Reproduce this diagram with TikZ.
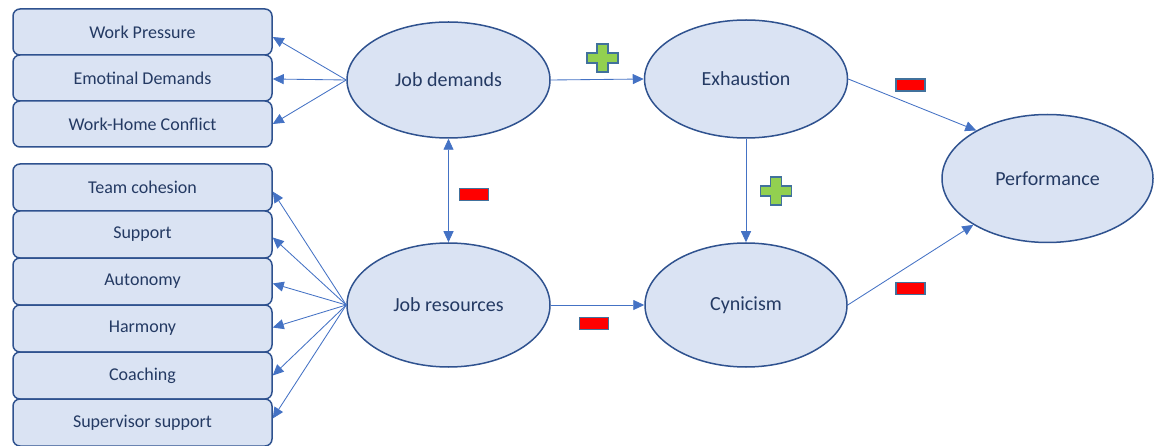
\documentclass[tikz,border=0pt]{standalone}
\usepackage{fontspec}
\setmainfont{Carlito}
\usetikzlibrary{shapes.geometric,arrows.meta}

\definecolor{boxfill}{HTML}{DAE3F3}
\definecolor{boxline}{HTML}{2F528F}
\definecolor{txt}{HTML}{243A63}
\definecolor{arrowc}{HTML}{4472C4}
\definecolor{plusg}{HTML}{92D050}
\definecolor{signline}{HTML}{41719C}

\tikzset{
  factor/.style={draw=boxline, line width=1.5pt, fill=boxfill, rounded corners=7pt,
    minimum width=259pt, text=txt, font=\fontsize{18}{21}\selectfont, inner sep=0pt},
  latent/.style={ellipse, draw=boxline, line width=1.5pt, fill=boxfill, text=txt,
    font=\fontsize{20}{23}\selectfont, inner sep=0pt},
  link/.style={draw=arrowc, line width=0.85pt, -{Triangle[length=11pt,width=10pt]}},
  dlink/.style={draw=arrowc, line width=0.85pt,
    {Triangle[length=11pt,width=10pt]}-{Triangle[length=11pt,width=10pt]}},
  plussign/.pic={
    \draw[draw=signline, line width=1.2pt, fill=plusg]
      (-5.5,-14) -- (5.5,-14) -- (5.5,-5) -- (15.5,-5) -- (15.5,5) -- (5.5,5)
      -- (5.5,14) -- (-5.5,14) -- (-5.5,5) -- (-15.5,5) -- (-15.5,-5) -- (-5.5,-5) -- cycle;
  },
  minussign/.pic={
    \draw[draw=signline, line width=1.3pt, fill=red] (-14.5,-6) rectangle (14.5,6);
  }
}

\begin{document}
\begin{tikzpicture}[x=1pt,y=-1pt]
\useasboundingbox (0,0) rectangle (1158,446);

% job demand indicators
\node[factor, minimum height=46pt] (wp) at (142.5,32)  {Work Pressure};
\node[factor, minimum height=46pt] (em) at (142.5,78)  {Emotinal Demands};
\node[factor, minimum height=46pt] (wh) at (142.5,124) {Work-Home Conflict};

% job resource indicators
\node[factor, minimum height=47pt] (tc) at (142.5,187.5) {Team cohesion};
\node[factor, minimum height=47pt] (su) at (142.5,234.5) {Support};
\node[factor, minimum height=47pt] (au) at (142.5,281.5) {Autonomy};
\node[factor, minimum height=47pt] (ha) at (142.5,328.5) {Harmony};
\node[factor, minimum height=47pt] (co) at (142.5,375.5) {Coaching};
\node[factor, minimum height=47pt] (sv) at (142.5,422.5) {Supervisor support};

% latent constructs
\node[latent, minimum width=203pt, minimum height=116pt] (jd) at (448.5,80)  {Job demands};
\node[latent, minimum width=203pt, minimum height=124pt] (jr) at (448.5,305) {Job resources};
\node[latent, minimum width=203pt, minimum height=118pt] (ex) at (746,79)    {Exhaustion};
\node[latent, minimum width=202pt, minimum height=124pt] (cy) at (746,305)   {Cynicism};
\node[latent, minimum width=211pt, minimum height=128pt] (pf) at (1047.5,178.5) {Performance};

% measurement arrows
\draw[link] (jd.west) -- ([yshift=-5pt]wp.east);
\draw[link] (jd.west) -- ([yshift=-1pt]em.east);
\draw[link] (jd.west) -- (wh.east);
\draw[link] (jr.west) -- ([yshift=-4pt]tc.east);
\draw[link] (jr.west) -- ([yshift=-3pt]su.east);
\draw[link] (jr.west) -- ([yshift=-2pt]au.east);
\draw[link] (jr.west) -- ([yshift=1pt]ha.east);
\draw[link] (jr.west) -- (co.east);
\draw[link] (jr.west) -- ([yshift=4pt]sv.east);

% structural paths
\draw[dlink] (jd.south) -- (jr.north);
\draw[link] (jd.east) -- (ex.west);
\draw[link] (jr.east) -- (cy.west);
\draw[link] (ex.south) -- (cy.north);
\draw[link] (ex.east) -- (pf.146);
\draw[link] (cy.east) -- (pf.212);

% effect signs
\pic at (602.5,58) {plussign};
\pic at (776,191) {plussign};
\pic at (910.5,85) {minussign};
\pic at (474,194.5) {minussign};
\pic at (594,323.5) {minussign};
\pic at (910.5,288.5) {minussign};
\end{tikzpicture}
\end{document}
